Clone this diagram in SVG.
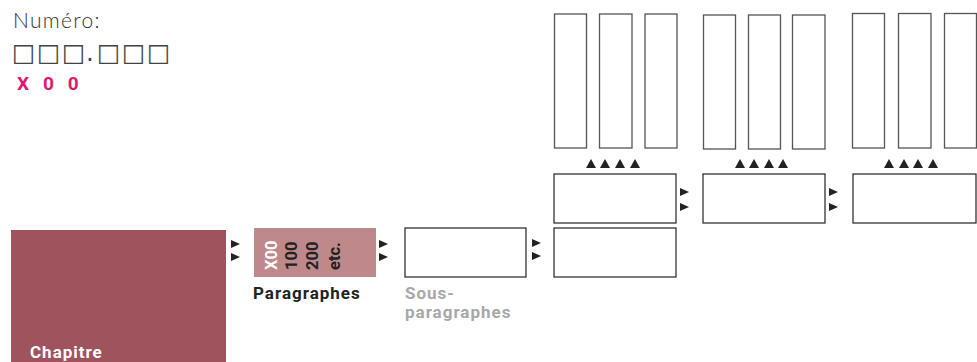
<svg xmlns="http://www.w3.org/2000/svg" width="977" height="362" viewBox="0 0 977 362">
  <style>
    .box { fill: #ffffff; stroke: #333333; stroke-width: 1.3; }
    .col { fill: #ffffff; stroke: #555555; stroke-width: 1.3; }
    .lbl { font-family: Roboto, "Liberation Sans", sans-serif; font-weight: 700; font-size: 17px; letter-spacing: 1px; }
    .num { font-family: Roboto, "Liberation Sans", sans-serif; font-weight: 700; font-size: 16.5px; }
    .tri { fill: #222222; }
  </style>
  <defs>
    <path id="tr" class="tri" d="M0,-4 L9,0 L0,4 Z"/>
    <path id="tu" class="tri" d="M0,0 L5,-9 L10,0 Z"/>
  </defs>

  <rect width="977" height="362" fill="#ffffff"/>

  <!-- number legend -->
  <g id="legend">
    <text x="13" y="28" font-family="Lato, 'Open Sans', sans-serif" font-weight="300" font-size="21" fill="#333333" letter-spacing="1.3">Numéro:</text>
    <text x="12 37 62 86 97 122 147" y="60.5" font-family="'DejaVu Sans', sans-serif" font-size="24.5" fill="#444444">□□□.□□□</text>
    <text x="17" y="90" font-family="Roboto, 'Liberation Sans', sans-serif" font-weight="700" font-size="19" fill="#e0196e" letter-spacing="4.6">X 0 0</text>
  </g>

  <!-- chapter -->
  <g id="chapitre">
    <rect x="11" y="230" width="215" height="140" fill="#9e535d"/>
    <text class="lbl" x="30" y="358" fill="#ffffff">Chapitre</text>
  </g>

  <!-- paragraphs -->
  <g id="paragraphes">
    <rect x="254" y="228" width="122" height="49" fill="#bf898c"/>
    <text class="num" transform="translate(277,270) rotate(-90)" fill="#ffffff">X00</text>
    <text class="num" transform="translate(297,270) rotate(-90)" fill="#222222">100</text>
    <text class="num" transform="translate(318,270) rotate(-90)" fill="#222222">200</text>
    <text class="num" transform="translate(340,270) rotate(-90)" fill="#222222">etc.</text>
    <text class="lbl" x="253" y="299" fill="#222222">Paragraphes</text>
  </g>

  <!-- sub-paragraphs -->
  <g id="sous-paragraphes">
    <rect class="box" x="405" y="228" width="121" height="49"/>
    <text class="lbl" x="405" y="299" fill="#a8a8a8">Sous-</text>
    <text class="lbl" x="405" y="318" fill="#a8a8a8">paragraphes</text>
  </g>

  <g id="niveau-4">
    <rect class="box" x="554" y="228" width="122" height="49"/>
  </g>

  <g id="niveau-5a">
    <rect class="box" x="554" y="174" width="122" height="49"/>
  </g>
  <g id="niveau-5b">
    <rect class="box" x="703" y="174" width="122" height="49"/>
  </g>
  <g id="niveau-5c">
    <rect class="box" x="853" y="174" width="123" height="49"/>
  </g>

  <g id="colonnes-a">
    <rect class="col" x="554.5" y="14" width="32" height="134"/>
    <rect class="col" x="599.5" y="14" width="32.5" height="134"/>
    <rect class="col" x="645" y="14" width="32" height="134"/>
  </g>
  <g id="colonnes-b">
    <rect class="col" x="703.5" y="15" width="32" height="134"/>
    <rect class="col" x="748.5" y="15" width="32" height="134"/>
    <rect class="col" x="792.5" y="15" width="32.5" height="134"/>
  </g>
  <g id="colonnes-c">
    <rect class="col" x="852.5" y="13.5" width="32" height="134.5"/>
    <rect class="col" x="898.5" y="13.5" width="32.5" height="134.5"/>
    <rect class="col" x="944.5" y="13.5" width="32" height="134.5"/>
  </g>

  <!-- connectors: arrowhead pairs -->
  <g id="connecteurs">
    <use href="#tr" x="231" y="244"/>
    <use href="#tr" x="231" y="257"/>
    <use href="#tr" x="379" y="244"/>
    <use href="#tr" x="379" y="257"/>
    <use href="#tr" x="532" y="243"/>
    <use href="#tr" x="532" y="256"/>
    <use href="#tr" x="680" y="192"/>
    <use href="#tr" x="680" y="207"/>
    <use href="#tr" x="829" y="192"/>
    <use href="#tr" x="829" y="207"/>

    <use href="#tu" x="586" y="168"/>
    <use href="#tu" x="600" y="168"/>
    <use href="#tu" x="615" y="168"/>
    <use href="#tu" x="630" y="168"/>
    <use href="#tu" x="735" y="168"/>
    <use href="#tu" x="749" y="168"/>
    <use href="#tu" x="764" y="168"/>
    <use href="#tu" x="778" y="168"/>
    <use href="#tu" x="884" y="168"/>
    <use href="#tu" x="899" y="168"/>
    <use href="#tu" x="913" y="168"/>
    <use href="#tu" x="928" y="168"/>
  </g>
</svg>
